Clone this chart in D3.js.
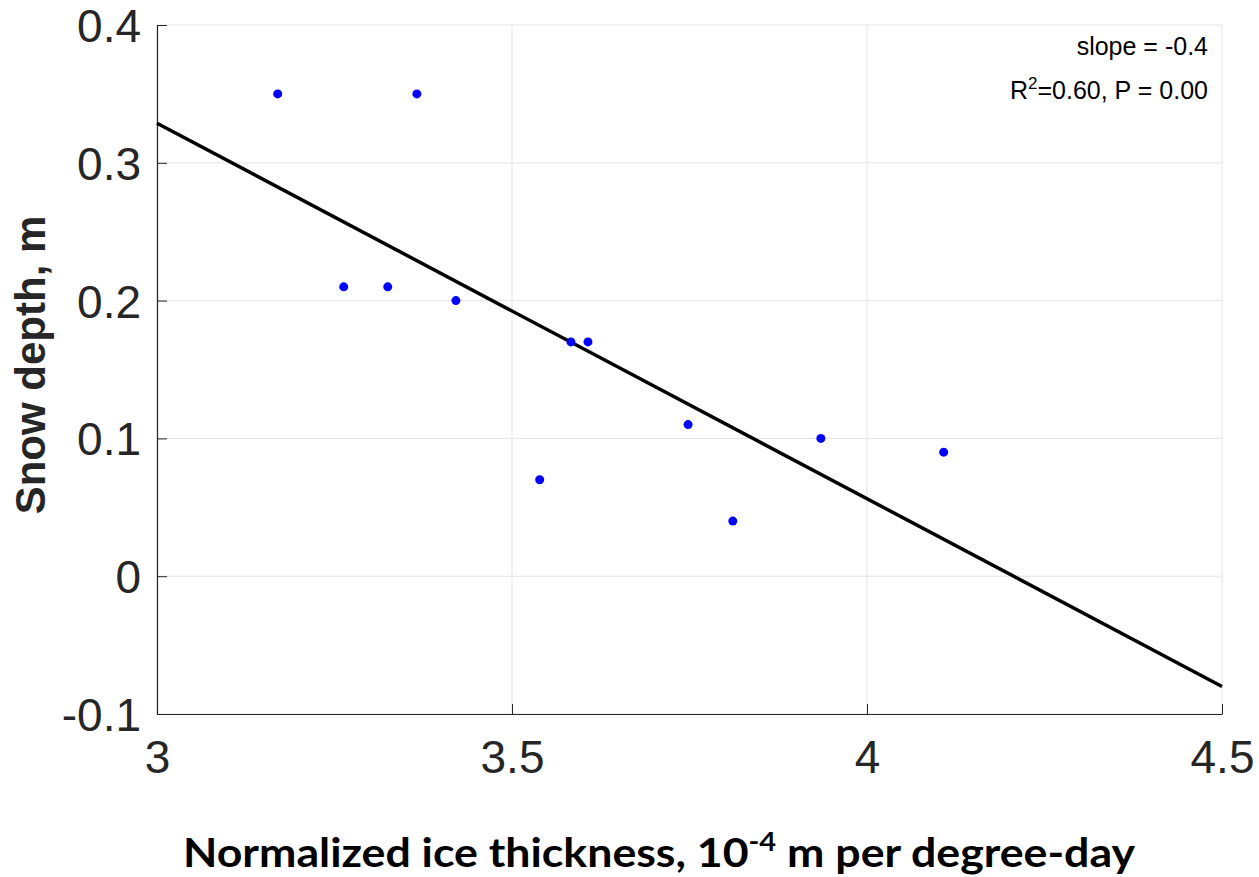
<!DOCTYPE html>
<html>
<head>
<meta charset="utf-8">
<script src="https://cdn.jsdelivr.net/npm/d3@7"></script>
<style>
  body { margin: 0; background: #fff; }
</style>
</head>
<body>
<div id="chart"></div>
<script>
// snow depth vs normalized ice thickness, with linear fit

const iceThickness = [3.17, 3.263, 3.325, 3.366, 3.421, 3.539, 3.583, 3.607, 3.748, 3.811, 3.935, 4.108];
const snowDepth    = [0.35, 0.21, 0.21, 0.35, 0.20, 0.07, 0.17, 0.17, 0.11, 0.04, 0.10, 0.09];

// fitted line endpoints
const fitX = [3, 4.5];
const fitY = [0.3287, -0.080];

const xTicks = [3, 3.5, 4, 4.5];
const yTicks = [-0.1, 0, 0.1, 0.2, 0.3, 0.4];
const xTickLabels = ["3", "3.5", "4", "4.5"];
const yTickLabels = ["-0.1", "0", "0.1", "0.2", "0.3", "0.4"];

const svgWidth = 1259, svgHeight = 877;
const margin = { top: 25, right: 37, bottom: 163, left: 157 };
const width = svgWidth - margin.left - margin.right;
const height = svgHeight - margin.top - margin.bottom;

const svg = d3.select("#chart").append("svg")
    .attr("width", svgWidth)
    .attr("height", svgHeight);

const chart = svg.append("g")
    .attr("transform", `translate(${margin.left},${margin.top})`);

const x = d3.scaleLinear().domain([3, 4.5]).range([0, width]);
const y = d3.scaleLinear().domain([-0.1, 0.4]).range([height, 0]);

// grid
chart.append("g").selectAll("line.gx")
    .data(xTicks).enter().append("line")
    .attr("x1", d => x(d)).attr("x2", d => x(d))
    .attr("y1", 0).attr("y2", height)
    .attr("stroke", "#e3e3e3").attr("stroke-width", 1);

chart.append("g").selectAll("line.gy")
    .data(yTicks).enter().append("line")
    .attr("y1", d => y(d)).attr("y2", d => y(d))
    .attr("x1", 0).attr("x2", width)
    .attr("stroke", "#e3e3e3").attr("stroke-width", 1);

// axes (MATLAB style: ticks inside)
const xAxis = chart.append("g")
    .attr("transform", `translate(0,${height})`)
    .call(d3.axisBottom(x).tickValues(xTicks).tickSizeInner(-10).tickSizeOuter(0).tickPadding(26)
        .tickFormat((d, i) => xTickLabels[i]));

const yAxis = chart.append("g")
    .call(d3.axisLeft(y).tickValues(yTicks).tickSizeInner(-10).tickSizeOuter(0).tickPadding(16)
        .tickFormat((d, i) => yTickLabels[i]));

[xAxis, yAxis].forEach(a => {
    a.select(".domain").attr("stroke", "#262626").attr("stroke-width", 1.2);
    a.selectAll(".tick line").attr("stroke", "#262626");
    a.selectAll(".tick text")
        .attr("fill", "#262626")
        .attr("font-family", "'Liberation Sans', Arial, sans-serif")
        .attr("font-size", "46px");
});
xAxis.selectAll(".tick text").attr("dy", "0.71em");
yAxis.selectAll(".tick text").attr("dy", "0.36em");

// fit line
const fitData = fitX.map((v, i) => ({ x: v, y: fitY[i] }));
chart.append("path")
    .datum(fitData)
    .attr("fill", "none")
    .attr("stroke", "#000")
    .attr("stroke-width", 3.5)
    .attr("d", d3.line().x(d => x(d.x)).y(d => y(d.y)));

// points
chart.selectAll("circle.pt")
    .data(iceThickness.map((v, i) => ({ x: v, y: snowDepth[i] })))
    .enter().append("circle")
    .attr("class", "pt")
    .attr("cx", d => x(d.x))
    .attr("cy", d => y(d.y))
    .attr("r", 4.5)
    .attr("fill", "#0000ff");

// annotation
const ann = chart.append("g")
    .attr("font-family", "'Liberation Sans', Arial, sans-serif")
    .attr("font-size", "25px")
    .attr("fill", "#000")
    .attr("text-anchor", "end");
ann.append("text").attr("x", width - 14).attr("y", 30).text("slope = -0.4");
const r2 = ann.append("text").attr("x", width - 14).attr("y", 74);
r2.append("tspan").text("R");
r2.append("tspan").attr("font-size", "17px").attr("dy", -10).text("2");
r2.append("tspan").attr("dy", 10).text("=0.60, P = 0.00");

// y label
svg.append("text")
    .attr("transform", `translate(45,365) rotate(-90)`)
    .attr("text-anchor", "middle")
    .attr("font-family", "'Liberation Sans', Arial, sans-serif")
    .attr("font-weight", "bold")
    .attr("font-size", "42px")
    .attr("fill", "#262626")
    .text("Snow depth, m");

// x label
const xl = svg.append("text")
    .attr("x", 659)
    .attr("y", 867)
    .attr("text-anchor", "middle")
    .attr("font-family", "Lato, 'Open Sans', sans-serif")
    .attr("font-weight", "bold")
    .attr("font-size", "40px")
    .attr("textLength", 952)
    .attr("lengthAdjust", "spacingAndGlyphs")
    .attr("fill", "#000");
xl.append("tspan").text("Normalized ice thickness, 10");
xl.append("tspan").attr("font-size", "26px").attr("dy", -16).text("-4");
xl.append("tspan").attr("dy", 16).text(" m per degree-day");
</script>
</body>
</html>
